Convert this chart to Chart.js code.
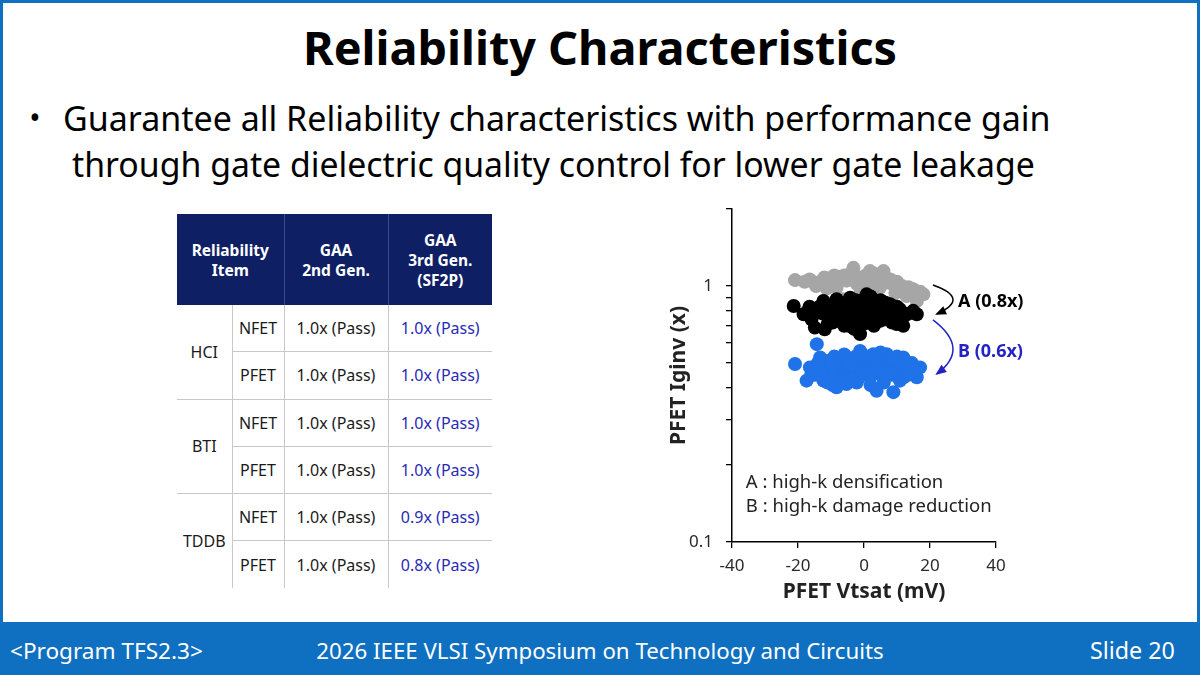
<!DOCTYPE html>
<html><head><meta charset="utf-8">
<script src="https://cdn.jsdelivr.net/npm/chart.js@4.4.1/dist/chart.umd.min.js"></script>
<style>
html,body{margin:0;padding:0;}
body{width:1200px;height:675px;position:relative;overflow:hidden;background:#fff;font-family:"Noto Sans","Open Sans",sans-serif;color:#000;}
.frame{position:absolute;left:0;top:0;width:1200px;height:623px;box-sizing:border-box;border:3px solid #0f6fc0;border-bottom:none;}
.footer{position:absolute;left:0;top:622px;width:1200px;height:53px;background:#0f6fc0;}
.t{position:absolute;white-space:nowrap;line-height:1;transform:translateY(-50%);}
.c{transform:translate(-50%,-50%);}
table{position:absolute;left:177px;top:214px;border-collapse:collapse;table-layout:fixed;width:315px;font-size:16px;color:#1a1a1a;}
th{background:#0e1f64;color:#fff;font-weight:bold;font-size:15.5px;line-height:20px;height:91px;padding:0;text-align:center;border-left:1px solid #3a4a88;}
th:first-child{border-left:none;}
td{height:46.3px;padding:0;text-align:center;border-left:1px solid #c8c8c8;}
td.g{border-left:none;}
tr.b td{border-top:1px solid #c8c8c8;}
td.bl{color:#2a2ab4;}
#wrap{position:absolute;left:640px;top:195px;width:420px;height:420px;}
</style></head>
<body>
<div class="frame"></div>
<div class="footer"></div>
<div class="t c" data-w="594" style="left:600px;top:47px;font-size:42px;font-weight:bold;">Reliability Characteristics</div>
<div class="t c" style="left:35px;top:118px;font-size:30px;">•</div>
<div class="t" data-w="988" style="left:63px;top:118px;font-size:32px;">Guarantee all Reliability characteristics with performance gain</div>
<div class="t" data-w="963" style="left:72px;top:165px;font-size:32px;">through gate dielectric quality control for lower gate leakage</div>
<div class="t" data-w="193" style="left:10px;top:651px;font-size:20px;color:#fff;">&lt;Program TFS2.3&gt;</div>
<div class="t c" data-w="568" style="left:600px;top:651px;font-size:20px;color:#fff;">2026 IEEE VLSI Symposium on Technology and Circuits</div>
<div class="t" data-w="85" style="left:1090px;top:651px;font-size:20px;color:#fff;">Slide 20</div>

<table id="tbl">
<colgroup><col style="width:55px"><col style="width:52px"><col style="width:104px"><col style="width:104px"></colgroup>
<thead><tr><th colspan="2">Reliability<br>Item</th><th>GAA<br>2nd Gen.</th><th>GAA<br>3rd Gen.<br>(SF2P)</th></tr></thead>
<tbody id="tb"></tbody>
</table>

<div id="wrap"><canvas id="c"></canvas></div>

<script>
// ---- table data ----
const relItems = ['HCI','BTI','TDDB'];
const devices = ['NFET','PFET'];
const gen2Vals = [['1.0x (Pass)','1.0x (Pass)'],['1.0x (Pass)','1.0x (Pass)'],['1.0x (Pass)','1.0x (Pass)']];
const gen3Vals = [['1.0x (Pass)','1.0x (Pass)'],['1.0x (Pass)','1.0x (Pass)'],['0.9x (Pass)','0.8x (Pass)']];

// ---- scatter data: PFET Vtsat (mV) vs PFET Iginv (x) ----
const grayX = [-20.9,-15.9,-14.5,-12.8,-10.5,-9.8,-7.3,-5.3,-4.0,-3.2,-2.2,0.5,1.8,2.8,4.0,5.9,4.8,6.5,7.5,8.9,10.0,10.9,12.9,14.9,15.5,16.0,18.0,-8.3,-11.3,-6.3,0.8,-1.0,3.5,9.5,12.0,-13.5,
  -18.0,-16.5,-9.0,-6.0,-1.5,1.0,3.0,6.0,8.0,11.5,13.5,17.0,-12.0,-4.5];
const grayY = [1.055,1.046,1.00,1.046,1.06,1.077,1.084,1.05,1.12,1.178,1.02,1.10,1.144,1.05,1.09,1.144,0.985,1.08,1.03,1.015,1.04,0.985,0.914,0.971,0.92,0.874,0.928,0.985,0.979,0.888,1.0,0.96,0.95,0.94,0.95,1.03,
  1.04,1.06,1.10,1.10,1.08,1.05,1.12,1.05,1.06,1.00,0.99,0.95,1.08,1.06];
const blackX = [-21.3,-18.3,-15.5,-12.3,-8.3,-4.2,0.8,2.0,3.8,7.9,10.9,14.9,16.0,-15.9,-14.9,-11.9,-7.3,-3.2,-1.2,-5.3,0.8,2.8,6.9,9.9,11.9,-9.3,-2.2,-0.2,4.8,7.9,-10.3,-6.5,-1.0,1.5,4.0,5.5,-4.5,-12.5,9.0,12.5,-2.5,3.0,-8.0,
  -17.0,-13.5,-11.0,-9.5,-7.0,-5.8,-3.8,-2.0,-0.5,1.0,2.5,4.5,6.0,7.0,8.5,10.0,11.5,13.5,-6.0,-1.5,5.0,-11.0,-16.5,0.0,6.5,-3.0];
const blackY = [0.836,0.776,0.80,0.874,0.888,0.901,0.928,0.91,0.874,0.849,0.811,0.80,0.776,0.742,0.688,0.678,0.731,0.753,0.649,0.799,0.776,0.823,0.776,0.710,0.699,0.823,0.849,0.710,0.731,0.753,0.76,0.84,0.80,0.86,0.78,0.82,0.70,0.78,0.80,0.77,0.88,0.70,0.77,
  0.80,0.83,0.80,0.72,0.86,0.76,0.82,0.74,0.88,0.72,0.76,0.84,0.74,0.81,0.72,0.83,0.75,0.78,0.70,0.77,0.88,0.71,0.83,0.84,0.86,0.68];
const blueX = [-14.3,-20.9,-16.4,-17.4,-13.3,-11.3,-8.3,-5.3,-1.2,2.8,6.9,11.9,17.0,16.0,8.9,3.8,-2.2,10.9,-7.3,0.8,4.8,-10.3,-4.2,7.9,1.8,-12.3,-15.0,-9.0,-6.0,-3.0,-0.5,3.0,5.5,9.5,13.0,14.5,12.0,6.0,-1.5,-8.5,-12.0,10.5,-5.0,0.5,-16.0,
  -14.0,-12.5,-10.0,-8.0,-6.5,-4.5,-2.5,-0.5,1.5,3.5,5.0,7.0,8.5,10.0,11.5,13.5,15.0,-11.0,-7.0,-3.5,2.0,6.5,12.5,-1.0,4.0,9.0,-9.5,-5.5];
const blueY = [0.593,0.496,0.481,0.427,0.526,0.510,0.402,0.414,0.558,0.542,0.542,0.526,0.481,0.440,0.385,0.390,0.420,0.427,0.481,0.481,0.453,0.453,0.510,0.481,0.440,0.427,0.45,0.53,0.54,0.46,0.50,0.50,0.51,0.50,0.47,0.50,0.44,0.42,0.44,0.45,0.48,0.46,0.47,0.53,0.45,
  0.50,0.47,0.49,0.51,0.44,0.49,0.53,0.46,0.52,0.47,0.55,0.50,0.45,0.53,0.49,0.45,0.47,0.42,0.43,0.43,0.41,0.45,0.51,0.55,0.52,0.52,0.41,0.53];
const xTicks = [-40,-20,0,20,40];
const xTickLabels = ['-40','-20','0','20','40'];
const yTicks = [0.1,0.2,0.3,0.4,0.5,0.6,0.7,0.8,0.9,1,2];
const yTickLabels = ['0.1','','','','','','','','','1',''];
const noteLines = ['A : high-k densification','B : high-k damage reduction'];
const arrowLabels = ['A (0.8x)','B (0.6x)'];

// build table
const tb = document.getElementById('tb');
relItems.forEach((it,gi)=>{
  devices.forEach((d,di)=>{
    const tr = document.createElement('tr');
    if (gi>0 || di>0) tr.className='b';
    let h='';
    if (di===0) h += '<td class="g" rowspan="2">'+it+'</td>';
    h += '<td>'+d+'</td><td>'+gen2Vals[gi][di]+'</td><td class="bl">'+gen3Vals[gi][di]+'</td>';
    tr.innerHTML = h; tb.appendChild(tr);
  });
});

function fit(){
  document.querySelectorAll('[data-w]').forEach(el=>{
    const tw=+el.dataset.w; const fs=parseFloat(getComputedStyle(el).fontSize);
    const w=el.getBoundingClientRect().width; el.style.fontSize=(fs*tw/w)+'px';
  });
}
fit();

const pts = (X,Y)=>X.map((v,i)=>({x:v,y:Y[i]}));
const FONT = "'Noto Sans', sans-serif";

const annot = {
  id:'annot',
  afterDatasetsDraw(chart){
    const {ctx, scales:{x,y}} = chart;
    const P = (a,b)=>[x.getPixelForValue(a), y.getPixelForValue(b)];
    function arrow(s,c,e,color){
      const [sx,sy]=P(...s),[cx,cy]=P(...c),[ex,ey]=P(...e);
      ctx.save(); ctx.strokeStyle=color; ctx.fillStyle=color; ctx.lineWidth=1.5;
      ctx.beginPath(); ctx.moveTo(sx,sy); ctx.quadraticCurveTo(cx,cy,ex,ey); ctx.stroke();
      const a=Math.atan2(ey-cy,ex-cx), L=9, W=4.5;
      ctx.beginPath(); ctx.moveTo(ex+2*Math.cos(a),ey+2*Math.sin(a));
      ctx.lineTo(ex-L*Math.cos(a)+W*Math.sin(a), ey-L*Math.sin(a)-W*Math.cos(a));
      ctx.lineTo(ex-L*Math.cos(a)-W*Math.sin(a), ey-L*Math.sin(a)+W*Math.cos(a));
      ctx.closePath(); ctx.fill(); ctx.restore();
    }
    arrow([20.9,1.009],[32.4,0.894],[22.1,0.778],'#000');
    arrow([20.9,0.737],[32.4,0.569],[22.1,0.454],'#2323c4');
    ctx.save();
    ctx.textBaseline='middle'; ctx.textAlign='left';
    ctx.font="bold 18px "+FONT;
    ctx.fillStyle='#000'; let p=P(28.5,0.866); ctx.fillText(arrowLabels[0],p[0],p[1]);
    ctx.fillStyle='#2323c4'; p=P(28.5,0.553); ctx.fillText(arrowLabels[1],p[0],p[1]);
    ctx.font="18.5px "+FONT; ctx.fillStyle='#222';
    p=P(-35.8,0.171); ctx.fillText(noteLines[0],p[0],p[1]);
    p=P(-35.8,0.137); ctx.fillText(noteLines[1],p[0],p[1]);
    ctx.restore();
  }
};

new Chart(document.getElementById('c'), {
  type:'scatter',
  data:{datasets:[
    {label:'After A', data:pts(blackX,blackY), backgroundColor:'#000', order:0},
    {label:'Baseline', data:pts(grayX,grayY), backgroundColor:'#a6a6a6', order:1},
    {label:'After A+B', data:pts(blueX,blueY), backgroundColor:'#1f72e8', order:2}
  ]},
  options:{
    responsive:true, maintainAspectRatio:false, animation:false,
    elements:{point:{radius:7, hoverRadius:7, borderWidth:0}},
    layout:{padding:{left:26,top:14,right:64,bottom:0}},
    plugins:{legend:{display:false}, tooltip:{enabled:false}},
    scales:{
      x:{type:'linear', min:-40, max:40,
        afterBuildTicks:s=>{s.ticks=xTicks.map(v=>({value:v}));},
        afterFit:s=>{s.height=73; s.paddingLeft=0; s.paddingRight=0;},
        ticks:{callback:(v,i)=>xTickLabels[i], font:{size:17,family:FONT}, color:'#2a2a2a', padding:8, autoSkip:false, maxRotation:0},
        grid:{drawOnChartArea:false, drawTicks:true, tickLength:6, color:'#000', lineWidth:1.3},
        border:{color:'#000', width:1.5},
        title:{display:true, text:'PFET Vtsat (mV)', font:{size:21,weight:'bold',family:FONT}, color:'#222', padding:{top:0,bottom:10}}
      },
      y:{type:'logarithmic', min:0.1, max:2,
        afterBuildTicks:s=>{s.ticks=yTicks.map(v=>({value:v}));},
        afterFit:s=>{s.width=66; s.paddingTop=0; s.paddingBottom=0;},
        ticks:{callback:(v,i)=>yTickLabels[i], font:{size:17,family:FONT}, color:'#2a2a2a', padding:13, autoSkip:false},
        grid:{drawOnChartArea:false, drawTicks:true, tickLength:6, color:'#000', lineWidth:1.3},
        border:{color:'#000', width:1.5},
        title:{display:true, text:'PFET Iginv (x)', font:{size:21,weight:'bold',family:FONT}, color:'#222', padding:{top:0,bottom:0}}
      }
    }
  },
  plugins:[annot]
});
</script>
</body></html>
